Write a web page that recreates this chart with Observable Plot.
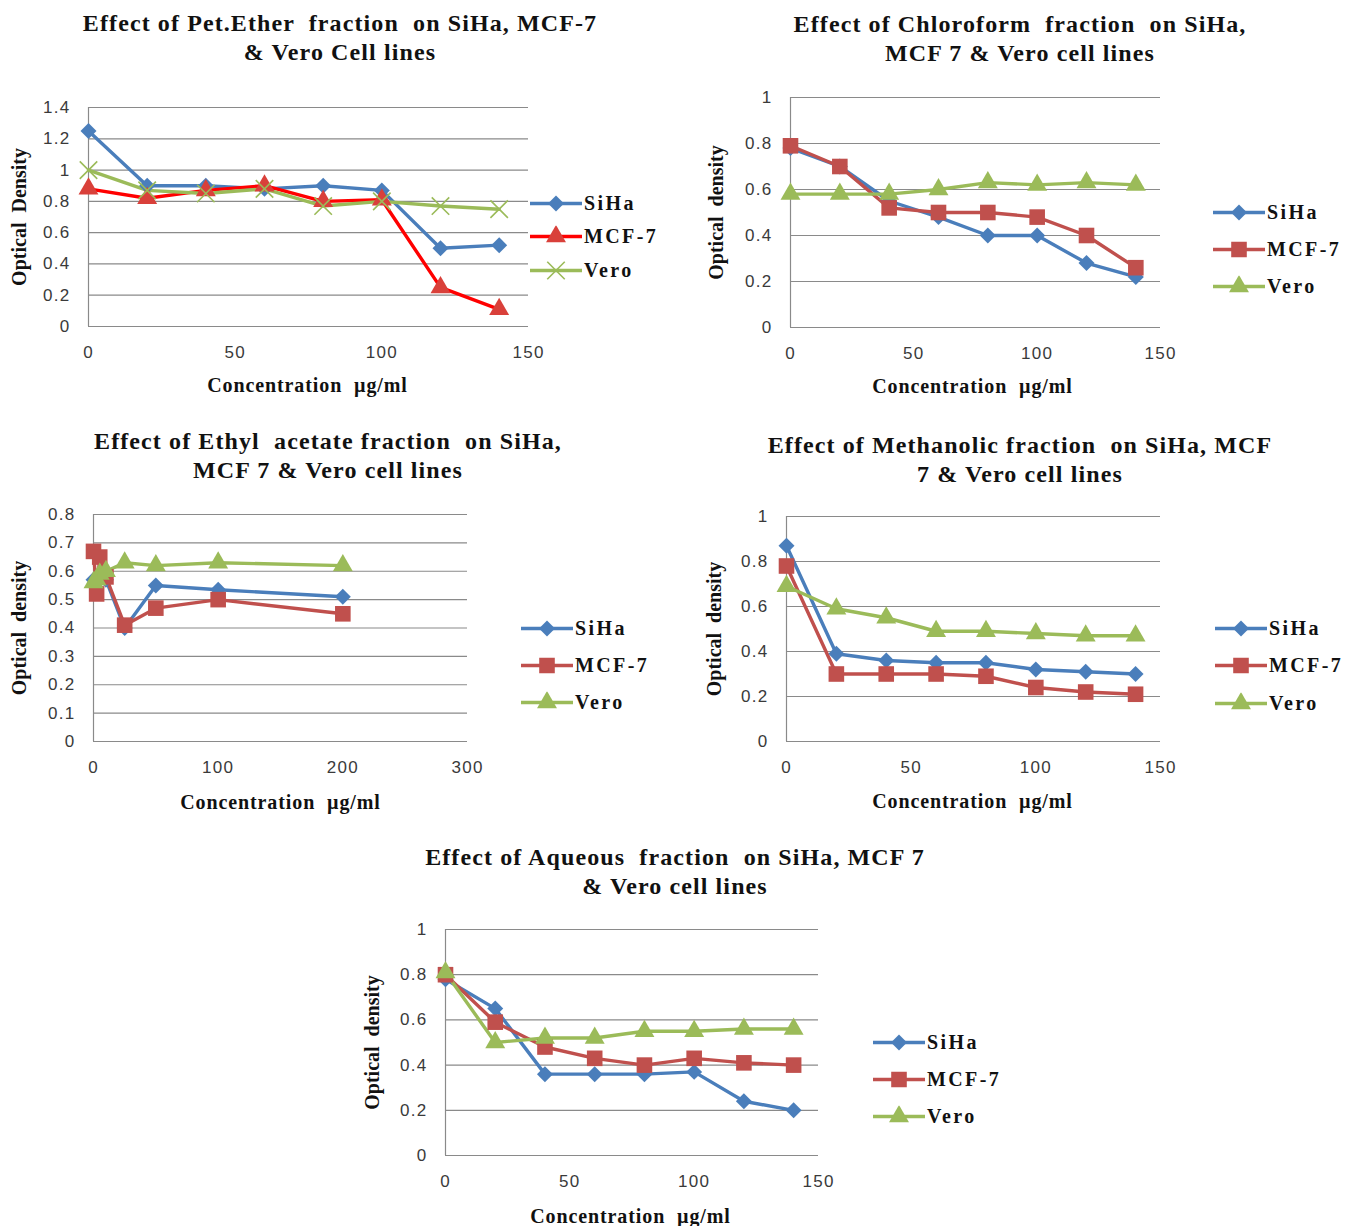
<!DOCTYPE html>
<html><head><meta charset="utf-8">
<script src="https://cdn.jsdelivr.net/npm/d3@7"></script>
<script src="https://cdn.jsdelivr.net/npm/@observablehq/plot@0.6"></script>
<style>
body{margin:0;background:#fff;}
#page{position:relative;width:1352px;height:1226px;overflow:hidden;background:#fff;}
.title{position:absolute;font:bold 24px "Liberation Serif",serif;letter-spacing:1.1px;color:#111;text-align:center;white-space:pre;line-height:29px;transform:translateX(-50%);}
.legend{position:absolute;font:bold 20px "Liberation Serif",serif;color:#111;}
.legend .row{position:absolute;left:0;display:flex;align-items:center;white-space:nowrap;transform:translateY(-50%);letter-spacing:2.4px;}
.legend svg{display:block;margin-right:2px;}
</style></head><body><div id="page"></div>
<script>
// ---------------- DATA ----------------
const series = ["SiHa", "MCF-7", "Vero"];
const conc = [0, 20, 40, 60, 80, 100, 120, 140];
const concEthyl = [0, 2.5, 5, 10, 25, 50, 100, 200];

const petSiHa = [1.25, 0.90, 0.90, 0.88, 0.90, 0.87, 0.50, 0.52];
const petMCF7 = [0.88, 0.82, 0.87, 0.90, 0.80, 0.81, 0.25, 0.11];
const petVero = [1.00, 0.87, 0.85, 0.88, 0.77, 0.80, 0.77, 0.75];

const chlSiHa = [0.78, 0.70, 0.55, 0.48, 0.40, 0.40, 0.28, 0.22];
const chlMCF7 = [0.79, 0.70, 0.52, 0.50, 0.50, 0.48, 0.40, 0.26];
const chlVero = [0.58, 0.58, 0.58, 0.60, 0.63, 0.62, 0.63, 0.62];

const ethSiHa = [0.57, 0.56, 0.58, 0.57, 0.40, 0.55, 0.535, 0.51];
const ethMCF7 = [0.67, 0.52, 0.65, 0.58, 0.41, 0.47, 0.50, 0.45];
const ethVero = [0.56, 0.57, 0.59, 0.60, 0.63, 0.62, 0.63, 0.62];

const metSiHa = [0.87, 0.39, 0.36, 0.35, 0.35, 0.32, 0.31, 0.30];
const metMCF7 = [0.78, 0.30, 0.30, 0.30, 0.29, 0.24, 0.22, 0.21];
const metVero = [0.69, 0.59, 0.55, 0.49, 0.49, 0.48, 0.47, 0.47];

const aquSiHa = [0.78, 0.65, 0.36, 0.36, 0.36, 0.37, 0.24, 0.20];
const aquMCF7 = [0.80, 0.59, 0.48, 0.43, 0.40, 0.43, 0.41, 0.40];
const aquVero = [0.81, 0.50, 0.52, 0.52, 0.55, 0.55, 0.56, 0.56];

const xTicks150 = [0, 50, 100, 150];
const xTicks300 = [0, 100, 200, 300];
const yTicks14 = [0, 0.2, 0.4, 0.6, 0.8, 1, 1.2, 1.4];
const yTicks10 = [0, 0.2, 0.4, 0.6, 0.8, 1];
const yTicks08 = [0, 0.1, 0.2, 0.3, 0.4, 0.5, 0.6, 0.7, 0.8];

const titles = [
  ["Effect of Pet.Ether  fraction  on SiHa, MCF-7", "& Vero Cell lines"],
  ["Effect of Chloroform  fraction  on SiHa,", "MCF 7 & Vero cell lines"],
  ["Effect of Ethyl  acetate fraction  on SiHa,", "MCF 7 & Vero cell lines"],
  ["Effect of Methanolic fraction  on SiHa, MCF", "7 & Vero cell lines"],
  ["Effect of Aqueous  fraction  on SiHa, MCF 7", "& Vero cell lines"]
];
const xLabel = "Concentration  µg/ml";

// ---------------- STYLES ----------------
const BLUE = "#4A7EBB", RED = "#C0504D", GREEN = "#9BBB59";
const styleStd = {
  "SiHa": {line: BLUE, fill: BLUE, symbol: "diamond2", r: 7.2},
  "MCF-7": {line: RED, fill: RED, symbol: "square", r: 8.8},
  "Vero": {line: GREEN, fill: GREEN, symbol: "triangle", r: 7.4}
};
const stylePet = {
  "SiHa": {line: BLUE, fill: BLUE, symbol: "diamond2", r: 7.2},
  "MCF-7": {line: "#FF0000", fill: "#D9403A", symbol: "triangle", r: 7.4},
  "Vero": {line: GREEN, fill: "none", stroke: GREEN, symbol: "times", r: 8}
};

const page = document.getElementById("page");

function table(x, a, b, c) {
  const vals = [a, b, c];
  return series.flatMap((s, i) => x.map((xv, j) => ({series: s, x: xv, y: vals[i][j]})));
}

const charts = [
  {title: titles[0], titleX: 340, titleY: 9, data: table(conc, petSiHa, petMCF7, petVero), st: stylePet,
   frame: {left: 88, right: 528, top: 107, bottom: 326}, xDomain: [0, 150], xTicks: xTicks150, yMax: 1.4, yTicks: yTicks14,
   yLabel: "Optical  Density", yLabelX: 19, xLabelX: 307, xLabelY: 385, legendX: 530, legendY: [203, 236, 270]},
  {title: titles[1], titleX: 1020, titleY: 10, data: table(conc, chlSiHa, chlMCF7, chlVero), st: styleStd,
   frame: {left: 790, right: 1160, top: 97, bottom: 327}, xDomain: [0, 150], xTicks: xTicks150, yMax: 1, yTicks: yTicks10,
   yLabel: "Optical  density", yLabelX: 716, xLabelX: 972, xLabelY: 386, legendX: 1213, legendY: [212, 249, 286]},
  {title: titles[2], titleX: 328, titleY: 427, data: table(concEthyl, ethSiHa, ethMCF7, ethVero), st: styleStd,
   frame: {left: 93, right: 467, top: 514, bottom: 741}, xDomain: [0, 300], xTicks: xTicks300, yMax: 0.8, yTicks: yTicks08,
   yLabel: "Optical  density", yLabelX: 19, xLabelX: 280, xLabelY: 802, legendX: 521, legendY: [628, 665, 702]},
  {title: titles[3], titleX: 1020, titleY: 431, data: table(conc, metSiHa, metMCF7, metVero), st: styleStd,
   frame: {left: 786, right: 1160, top: 516, bottom: 741}, xDomain: [0, 150], xTicks: xTicks150, yMax: 1, yTicks: yTicks10,
   yLabel: "Optical  density", yLabelX: 714, xLabelX: 972, xLabelY: 801, legendX: 1215, legendY: [628, 665, 703]},
  {title: titles[4], titleX: 675, titleY: 843, data: table(conc, aquSiHa, aquMCF7, aquVero), st: styleStd,
   frame: {left: 445, right: 818, top: 929, bottom: 1155}, xDomain: [0, 150], xTicks: xTicks150, yMax: 1, yTicks: yTicks10,
   yLabel: "Optical  density", yLabelX: 372, xLabelX: 630, xLabelY: 1216, legendX: 873, legendY: [1042, 1079, 1116]}
];

function symbolPath(name, r) {
  const map = {diamond2: d3.symbolDiamond2, square: d3.symbolSquare, triangle: d3.symbolTriangle, times: d3.symbolTimes};
  return d3.symbol(map[name], Math.PI * r * r)();
}

for (const c of charts) {
  const mL = 100, mR = 20, mT = 20, mB = 80;
  const f = c.frame;
  const w = f.right - f.left + mL + mR;
  const h = f.bottom - f.top + mT + mB;
  const marks = [
    Plot.gridY(c.yTicks, {stroke: "#8a8a8a", strokeOpacity: 1, strokeWidth: 1.2}),
    Plot.ruleX([0], {stroke: "#8a8a8a", strokeWidth: 1.2}),
    Plot.axisX(c.xTicks, {tickSize: 0, tickPadding: 19, label: null, fill: "#3a3a3a"}),
    Plot.axisY(c.yTicks, {tickSize: 0, tickPadding: 18, label: null, fill: "#3a3a3a", tickFormat: d => String(+d.toFixed(2))})
  ];
  for (const s of series) {
    const st = c.st[s];
    const rows = c.data.filter(d => d.series === s);
    marks.push(Plot.line(rows, {x: "x", y: "y", stroke: st.line, strokeWidth: 3.4, strokeLinejoin: "round"}));
  }
  for (const s of series) {
    const st = c.st[s];
    const rows = c.data.filter(d => d.series === s);
    marks.push(Plot.dot(rows, {x: "x", y: "y", symbol: st.symbol, r: st.r, fill: st.fill,
      stroke: st.stroke || "none", strokeWidth: st.stroke ? 1.6 : 0}));
  }
  marks.push(Plot.text([c.yLabel], {frameAnchor: "left", dx: c.yLabelX - f.left, rotate: -90, textAnchor: "middle", lineAnchor: "middle",
    fontFamily: "Liberation Serif", fontWeight: "bold", fontSize: 20, fill: "#111"}));
  marks.push(Plot.text([xLabel], {frameAnchor: "bottom", dy: c.xLabelY - f.bottom, dx: c.xLabelX - (f.left + f.right) / 2,
    textAnchor: "middle", lineAnchor: "middle",
    fontFamily: "Liberation Serif", fontWeight: "bold", fontSize: 20, fill: "#111"}));

  const svg = Plot.plot({
    width: w, height: h, marginLeft: mL, marginRight: mR, marginTop: mT, marginBottom: mB,
    style: {fontFamily: "'Liberation Sans', Arial, sans-serif", fontSize: "17px", color: "#3a3a3a", background: "transparent", overflow: "visible", letterSpacing: "1.3px"},
    x: {domain: c.xDomain, label: null},
    y: {domain: [0, c.yMax], label: null},
    marks
  });
  d3.select(svg).selectAll("text").each(function() {
    if (this.textContent === c.yLabel) this.setAttribute("letter-spacing", "0");
    if (this.textContent === xLabel) this.setAttribute("letter-spacing", "0.9px");
  });
  svg.style.position = "absolute";
  svg.style.left = (f.left - mL) + "px";
  svg.style.top = (f.top - mT) + "px";
  page.appendChild(svg);

  const t = document.createElement("div");
  t.className = "title";
  t.style.left = c.titleX + "px";
  t.style.top = c.titleY + "px";
  t.textContent = c.title.join("\n");
  page.appendChild(t);

  const lg = document.createElement("div");
  lg.className = "legend";
  lg.style.left = c.legendX + "px";
  lg.style.top = "0px";
  series.forEach((s, i) => {
    const st = c.st[s];
    const row = document.createElement("div");
    row.className = "row";
    row.style.top = c.legendY[i] + "px";
    const sw = d3.create("svg").attr("width", 52).attr("height", 22);
    sw.append("line").attr("x1", 0).attr("x2", 52).attr("y1", 11).attr("y2", 11)
      .attr("stroke", st.line).attr("stroke-width", 3.4);
    sw.append("path").attr("d", symbolPath(st.symbol, st.r)).attr("transform", "translate(26,11)")
      .attr("fill", st.fill).attr("stroke", st.stroke || "none").attr("stroke-width", st.stroke ? 1.6 : 0);
    row.appendChild(sw.node());
    const sp = document.createElement("span");
    sp.textContent = s;
    row.appendChild(sp);
    lg.appendChild(row);
  });
  page.appendChild(lg);
}
</script>
</body></html>
